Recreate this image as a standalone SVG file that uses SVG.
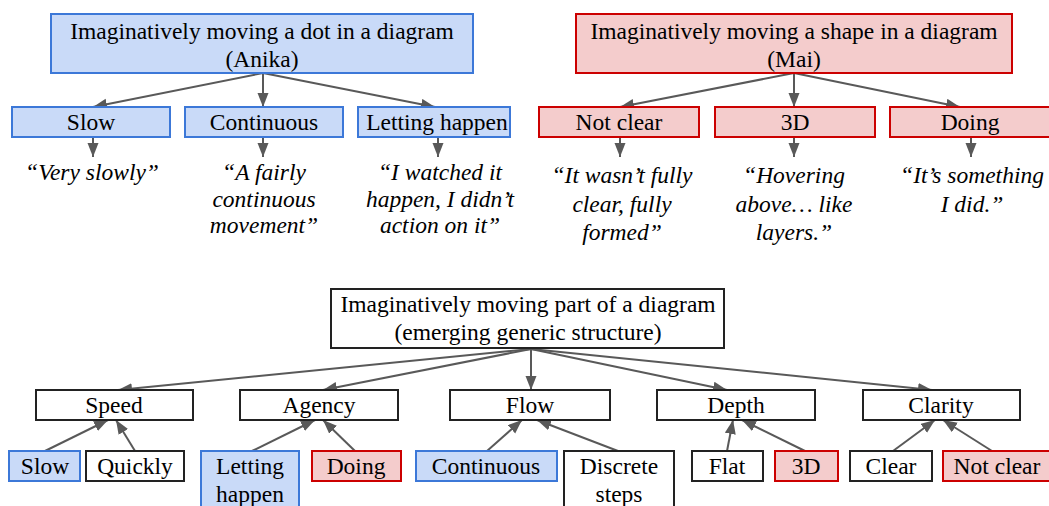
<svg xmlns="http://www.w3.org/2000/svg" width="1049" height="506" viewBox="0 0 1049 506">
<style>
.blue{fill:#c9daf8;stroke:#3c78d8;stroke-width:2}
.red{fill:#f4cccc;stroke:#cc0000;stroke-width:2}
.plain{fill:#ffffff;stroke:#222222;stroke-width:2}
text{font-family:"Liberation Serif","Times New Roman",serif;font-size:23.5px;fill:#000;text-anchor:middle}
.q{font-style:italic;font-size:23.5px}
.c line{stroke:#595959;stroke-width:2;marker-end:url(#ah)}
</style>
<defs>
<marker id="ah" markerUnits="userSpaceOnUse" markerWidth="15" markerHeight="12" refX="14" refY="5.5" orient="auto">
<path d="M0,0 L14,5.5 L0,11 z" fill="#595959"/>
</marker>
</defs>
<rect width="1049" height="506" fill="#ffffff"/>
<g class="c" id="connectors">
<line x1="263" y1="73" x2="93" y2="107"/>
<line x1="263" y1="73" x2="263" y2="107"/>
<line x1="263" y1="73" x2="435" y2="107"/>
<line x1="794" y1="73" x2="620" y2="107"/>
<line x1="794" y1="73" x2="794" y2="107"/>
<line x1="794" y1="73" x2="960" y2="107"/>
<line x1="93" y1="137" x2="93" y2="157"/>
<line x1="263" y1="137" x2="263" y2="157"/>
<line x1="438" y1="137" x2="438" y2="157"/>
<line x1="620" y1="137" x2="620" y2="157"/>
<line x1="794" y1="137" x2="794" y2="157"/>
<line x1="971" y1="137" x2="971" y2="157"/>
<line x1="531" y1="349" x2="118" y2="390"/>
<line x1="531" y1="349" x2="323" y2="390"/>
<line x1="531" y1="349" x2="531" y2="390"/>
<line x1="531" y1="349" x2="727" y2="390"/>
<line x1="531" y1="349" x2="932" y2="390"/>
<line x1="45" y1="451" x2="108" y2="420"/>
<line x1="135" y1="451" x2="116" y2="420"/>
<line x1="252" y1="451" x2="315" y2="420"/>
<line x1="355" y1="451" x2="323" y2="420"/>
<line x1="487" y1="451" x2="522" y2="420"/>
<line x1="618" y1="451" x2="537" y2="420"/>
<line x1="727" y1="451" x2="733" y2="420"/>
<line x1="805" y1="451" x2="742" y2="420"/>
<line x1="893" y1="451" x2="935" y2="420"/>
<line x1="992" y1="451" x2="943" y2="420"/>
</g>
<g id="anika">
<rect class="blue" x="51" y="14" width="422" height="59"/>
<text x="262" y="39">Imaginatively moving a dot in a diagram</text>
<text x="262" y="67">(Anika)</text>
</g>
<g id="a-slow"><rect class="blue" x="12" y="107" width="158" height="30"/><text x="91" y="130">Slow</text></g>
<g id="a-continuous"><rect class="blue" x="185" y="107" width="158" height="30"/><text x="264" y="130">Continuous</text></g>
<g id="a-letting"><rect class="blue" x="358" y="107" width="152" height="30"/><text x="437" y="130">Letting happen</text></g>
<g id="q-slow"><text class="q" x="92" y="180">“Very slowly”</text></g>
<g id="q-continuous"><text class="q" x="264" y="180">“A fairly</text><text class="q" x="264" y="207">continuous</text><text class="q" x="264" y="233">movement”</text></g>
<g id="q-letting"><text class="q" x="440" y="180">“I watched it</text><text class="q" x="440" y="207">happen, I didn’t</text><text class="q" x="440" y="233">action on it”</text></g>
<g id="mai">
<rect class="red" x="576" y="14" width="436" height="59"/>
<text x="794" y="39">Imaginatively moving a shape in a diagram</text>
<text x="794" y="67">(Mai)</text>
</g>
<g id="m-notclear"><rect class="red" x="539" y="107" width="160" height="30"/><text x="619" y="130">Not clear</text></g>
<g id="m-3d"><rect class="red" x="715" y="107" width="160" height="30"/><text x="795" y="130">3D</text></g>
<g id="m-doing"><rect class="red" x="890" y="107" width="162" height="30"/><text x="970" y="130">Doing</text></g>
<g id="q-notclear"><text class="q" x="622" y="183">“It wasn’t fully</text><text class="q" x="622" y="212">clear, fully</text><text class="q" x="622" y="240">formed”</text></g>
<g id="q-3d"><text class="q" x="794" y="183">“Hovering</text><text class="q" x="794" y="212">above… like</text><text class="q" x="794" y="240">layers.”</text></g>
<g id="q-doing"><text class="q" x="972" y="183">“It’s something</text><text class="q" x="972" y="212">I did.”</text></g>
<g id="generic">
<rect class="plain" x="331" y="289" width="393" height="59"/>
<text x="528" y="312">Imaginatively moving part of a diagram</text>
<text x="528" y="340">(emerging generic structure)</text>
</g>
<g id="speed"><rect class="plain" x="36" y="390" width="157" height="30"/><text x="114" y="413">Speed</text></g>
<g id="agency"><rect class="plain" x="240" y="390" width="158" height="30"/><text x="319" y="413">Agency</text></g>
<g id="flow"><rect class="plain" x="450" y="390" width="160" height="30"/><text x="530" y="413">Flow</text></g>
<g id="depth"><rect class="plain" x="657" y="390" width="158" height="30"/><text x="736" y="413">Depth</text></g>
<g id="clarity"><rect class="plain" x="863" y="390" width="157" height="30"/><text x="941" y="413">Clarity</text></g>
<g id="b-slow"><rect class="blue" x="9" y="451" width="71" height="30"/><text x="45" y="474">Slow</text></g>
<g id="b-quickly"><rect class="plain" x="86" y="451" width="98" height="30"/><text x="135" y="474">Quickly</text></g>
<g id="b-letting"><rect class="blue" x="201" y="451" width="98" height="62"/><text x="250" y="474">Letting</text><text x="250" y="502">happen</text></g>
<g id="b-doing"><rect class="red" x="312" y="451" width="89" height="30"/><text x="356" y="474">Doing</text></g>
<g id="b-continuous"><rect class="blue" x="416" y="451" width="141" height="30"/><text x="486" y="474">Continuous</text></g>
<g id="b-discrete"><rect class="plain" x="564" y="451" width="110" height="62"/><text x="619" y="474">Discrete</text><text x="619" y="502">steps</text></g>
<g id="b-flat"><rect class="plain" x="692" y="451" width="71" height="30"/><text x="727" y="474">Flat</text></g>
<g id="b-3d"><rect class="red" x="775" y="451" width="63" height="30"/><text x="806" y="474">3D</text></g>
<g id="b-clear"><rect class="plain" x="850" y="451" width="82" height="30"/><text x="891" y="474">Clear</text></g>
<g id="b-notclear"><rect class="red" x="943" y="451" width="109" height="30"/><text x="997" y="474">Not clear</text></g>
</svg>
